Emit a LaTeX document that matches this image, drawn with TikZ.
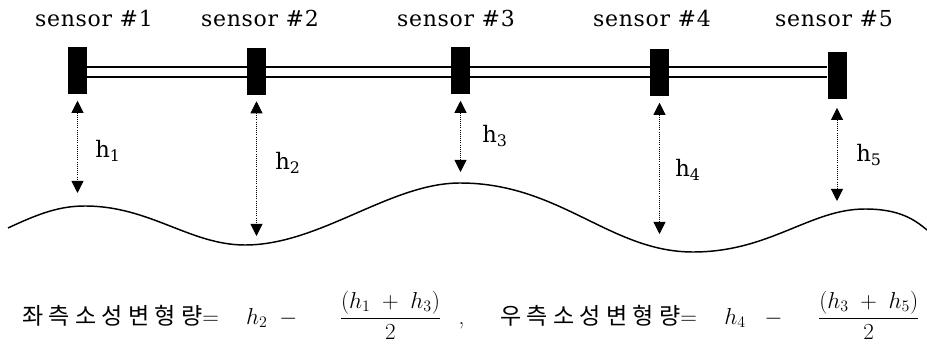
\documentclass[tikz,border=0pt]{standalone}
\usepackage{amsmath}
\usepackage{fontspec}
\newfontfamily\sensorfont[LetterSpace=3]{DejaVu Serif}
\newfontfamily\hfont{DejaVu Serif}
\newfontfamily\krfont[LetterSpace=23]{Noto Sans CJK KR}
\usetikzlibrary{arrows.meta}

\begin{document}
\begin{tikzpicture}[x=0.75pt, y=-0.75pt,
  sensorbox/.style={fill=black, inner sep=0pt, minimum width=14.25pt, minimum height=35.25pt},
  sensorlabel/.style={anchor=base, inner sep=0pt, font=\fontsize{16.5}{19}\sensorfont},
  hlabel/.style={anchor=base west, inner sep=0pt, font=\fontsize{17}{20}\hfont},
  rod/.style={line width=1.5pt},
  gap/.style={densely dotted, line width=0.6pt, {Triangle[width=9pt,length=9pt]}-{Triangle[width=9pt,length=9pt]}},
  formula/.style={anchor=base west, inner sep=0pt, font=\fontsize{17.28}{21}\selectfont}]
\useasboundingbox (0,0) rectangle (927,345);

\node[sensorbox] (s1) at (77.5,71) {};
\node[sensorbox] (s2) at (256.5,71.5) {};
\node[sensorbox] (s3) at (460.5,71) {};
\node[sensorbox] (s4) at (659.5,73) {};
\node[sensorbox] (s5) at (837,75.5) {};

\node[sensorlabel] (l1) at (94,27) {sensor \#1};
\node[sensorlabel] (l2) at (260,27) {sensor \#2};
\node[sensorlabel] (l3) at (456,27) {sensor \#3};
\node[sensorlabel] (l4) at (652,27) {sensor \#4};
\node[sensorlabel] (l5) at (834,27) {sensor \#5};

\coordinate (rt) at (0,67);
\coordinate (rb) at (0,77);
\draw[rod] (s1.east |- rt) -- (s2.west |- rt) (s2.east |- rt) -- (s3.west |- rt)
  (s3.east |- rt) -- (s4.west |- rt) (s4.east |- rt) -- (s5.west |- rt);
\draw[rod] (s1.east |- rb) -- (s2.west |- rb) (s2.east |- rb) -- (s3.west |- rb)
  (s3.east |- rb) -- (s4.west |- rb) (s4.east |- rb) -- (s5.west |- rb);

\draw[line width=1.1pt] (8,228) .. controls (40,213) and (60,206) .. (85,206)
  .. controls (150,206) and (190,245) .. (245,245)
  .. controls (320,245) and (390,183) .. (460,183)
  .. controls (560,183) and (610,252) .. (693,252)
  .. controls (770,252) and (810,209) .. (865,209)
  .. controls (900,209) and (915,220) .. (927,230);

\coordinate (g1) at (77.5,193);
\coordinate (g2) at (256.5,236);
\coordinate (g3) at (460.5,172);
\coordinate (g4) at (659.5,234);
\coordinate (g5) at (837,201);

\draw[gap] ([yshift=-4.5pt]s1.south) -- (g1);
\draw[gap] ([yshift=-4.5pt]s2.south) -- (g2);
\draw[gap] ([yshift=-4.5pt]s3.south) -- (g3);
\draw[gap] ([yshift=-4.5pt]s4.south) -- (g4);
\draw[gap] ([yshift=-6.5pt]s5.south) -- (g5);

\node[hlabel] (h1) at (95,158) {h\textsubscript{1}};
\node[hlabel] (h2) at (275,170) {h\textsubscript{2}};
\node[hlabel] (h3) at (482,143) {h\textsubscript{3}};
\node[hlabel] (h4) at (675,177) {h\textsubscript{4}};
\node[hlabel] (h5) at (856,162) {h\textsubscript{5}};

\node[formula] (left) at (22,324)
  {{\krfont 좌측소성변형량}$=\hspace{15.5pt}h_2\hspace{5pt}-\hspace{27.75pt}\dfrac{(h_1\;+\;h_3)}{2}$\hspace{12.9pt},};
\node[formula] (right) at (500,324)
  {{\krfont 우측소성변형량}$=\hspace{15.75pt}h_4\hspace{10.2pt}-\hspace{22.5pt}\dfrac{(h_3\;+\;h_5)}{2}$};

\end{tikzpicture}
\end{document}
